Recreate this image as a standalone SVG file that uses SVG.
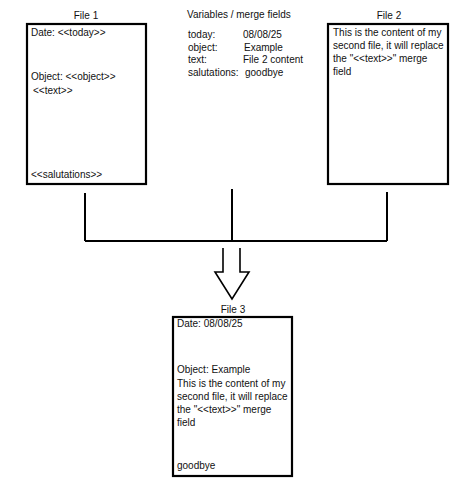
<svg xmlns="http://www.w3.org/2000/svg" width="473" height="500" viewBox="0 0 473 500">
<style>
text{font-family:"Liberation Sans",Arial,sans-serif;font-size:10px;fill:#111}
.box{fill:#fff;stroke:#000;stroke-width:2.2}
.ln{fill:none;stroke:#000;stroke-width:2}
.t{text-anchor:middle}
</style>
<rect width="473" height="500" fill="#fff"/>
<g id="file1">
<text class="t" x="86" y="19">File 1</text>
<rect class="box" x="27" y="24" width="119" height="160"/>
<text x="31" y="36">Date: &lt;&lt;today&gt;&gt;</text>
<text x="31" y="80">Object: &lt;&lt;object&gt;&gt;</text>
<text x="33" y="94">&lt;&lt;text&gt;&gt;</text>
<text x="31" y="178">&lt;&lt;salutations&gt;&gt;</text>
</g>
<g id="variables">
<text x="187" y="18">Variables / merge fields</text>
<text x="188" y="38">today:</text><text x="243" y="38">08/08/25</text>
<text x="188" y="51">object:</text><text x="244" y="51">Example</text>
<text x="188" y="63">text:</text><text x="243" y="63">File 2 content</text>
<text x="188" y="76">salutations:</text><text x="245" y="76">goodbye</text>
</g>
<g id="file2">
<text class="t" x="389" y="19">File 2</text>
<rect class="box" x="328" y="24" width="120" height="160"/>
<text x="333" y="36">This is the content of my</text>
<text x="333" y="49">second file, it will replace</text>
<text x="333" y="62">the "&lt;&lt;text&gt;&gt;" merge</text>
<text x="333" y="75">field</text>
</g>
<g id="connectors">
<path class="ln" d="M85 193V241M387 192V241M232 189V241M85 241H387"/>
<path class="ln" style="stroke-width:1.6" d="M223 248V272H215L232 299L249 272H240V248"/>
</g>
<g id="file3">
<text class="t" x="233" y="313">File 3</text>
<rect class="box" x="173" y="317" width="119" height="159"/>
<text x="177" y="327">Date: 08/08/25</text>
<text x="177" y="373">Object: Example</text>
<text x="177" y="387">This is the content of my</text>
<text x="177" y="400">second file, it will replace</text>
<text x="177" y="413">the "&lt;&lt;text&gt;&gt;" merge</text>
<text x="177" y="426">field</text>
<text x="177" y="469">goodbye</text>
</g>
</svg>
